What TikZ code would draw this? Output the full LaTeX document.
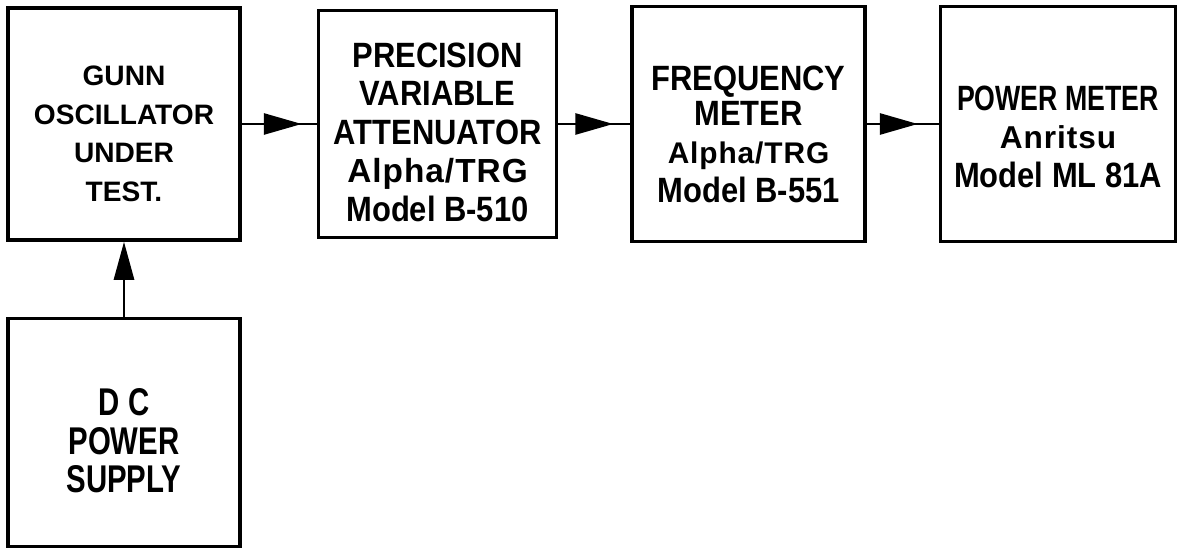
\documentclass[tikz,border=0pt]{standalone}
\usepackage{fontspec}
\setmainfont{Liberation Sans}
\newfontfamily\narrowfont{Liberation Sans}[FakeStretch=0.88]
\newfontfamily\tightfont{Liberation Sans}[FakeStretch=0.76]
\newfontfamily\spacedfont{Liberation Sans}[LetterSpace=3]
\newcommand\lift[1]{\rule{0pt}{#1}}
\usetikzlibrary{positioning, arrows.meta, decorations.markings}

\begin{document}
\begin{tikzpicture}[
    unit/.style     = {draw=black, line width=2pt, align=center, inner sep=2pt,
                       minimum width=4.64cm, minimum height=4.64cm,
                       font=\narrowfont\bfseries\fontsize{20}{22}\selectfont},
    lettered/.style = {unit, font=\bfseries\fontsize{16}{22}\selectfont},
    flow/.style     = {draw=black, line width=1.6pt, postaction={decorate},
                       decoration={markings, mark=at position #1 with
                         {\arrow{Triangle[length=7.6mm, width=4.2mm]}}}},
    flow/.default   = -3mm,
    feed/.style     = {-{Triangle[length=7.6mm, width=4mm]}, line width=1.6pt},
    node distance   = 1.5cm,
  ]
  \useasboundingbox (0,0) rectangle (23.62,-10.98);

  \node[lettered] (gunn) at (2.48,-2.48)
      {\lift{7.8mm}GUNN\\OSCILLATOR\\UNDER\\TEST.};
  \node[unit, minimum width=4.76cm, minimum height=4.54cm, right=of gunn] (atten)
      {\lift{8.2mm}PRECISION\\VARIABLE\\ATTENUATOR\\{\spacedfont\fontsize{19}{22}\selectfont Alpha/TRG}\\Model B-510};
  \node[unit, minimum width=4.66cm, minimum height=4.7cm, right=1.44cm of atten] (freq)
      {\lift{9mm}FREQUENCY\\[-2pt]METER\\{\spacedfont\fontsize{17}{22}\selectfont Alpha/TRG}\\Model B-551};
  \node[unit, minimum width=4.7cm, minimum height=4.7cm, right=1.44cm of freq] (meter)
      {\lift{10mm}{\tightfont POWER METER}\\{\spacedfont\fontsize{18}{22}\selectfont Anritsu}\\Model ML 81A};
  \node[unit, minimum height=4.56cm, below=of gunn,
        font=\tightfont\bfseries\fontsize{22}{22}\selectfont] (supply)
      {\lift{8.8mm}D C\\POWER\\SUPPLY};

  \draw[flow] (gunn) -- (atten);
  \draw[flow=-3.4mm] (atten) -- (freq);
  \draw[flow=-4.2mm] (freq) -- (meter);
  \draw[feed] (supply) -- (gunn);
\end{tikzpicture}
\end{document}
